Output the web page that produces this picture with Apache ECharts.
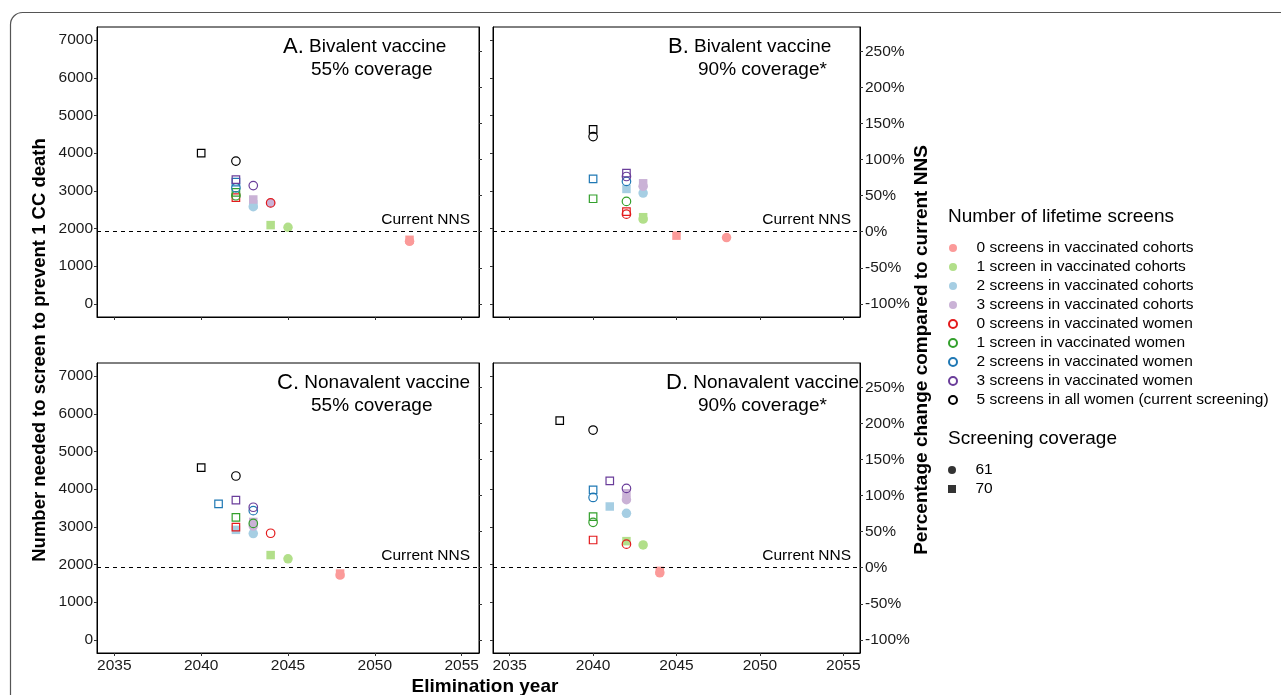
<!DOCTYPE html>
<html><head><meta charset="utf-8">
<script src="https://cdn.jsdelivr.net/npm/echarts@6/dist/echarts.min.js"></script>
<style>html,body{margin:0;padding:0;background:#fff}#chart{width:1281px;height:695px}</style>
</head><body><div id="chart"></div>
<script>
// ---------- data ----------
const groupKeys = ['c0','c1','c2','c3','w0','w1','w2','w3','all5'];
const groupNames = [
  '0 screens in vaccinated cohorts',
  '1 screen in vaccinated cohorts',
  '2 screens in vaccinated cohorts',
  '3 screens in vaccinated cohorts',
  '0 screens in vaccinated women',
  '1 screen in vaccinated women',
  '2 screens in vaccinated women',
  '3 screens in vaccinated women',
  '5 screens in all women (current screening)'
];
const groupColors = ['#FB9A99','#B2DF8A','#A6CEE3','#CAB2D6','#E31A1C','#33A02C','#1F78B4','#6A3D9A','#000000'];
const coverageLevels = ['61','70'];
const currentNNS = 1915;
const yearTicks = [2035,2040,2045,2050,2055];
const nnsTicks = [0,1000,2000,3000,4000,5000,6000,7000];
const pctTicks = [-100,-50,0,50,100,150,200,250];
const panelTitles = [
  ['A.','Bivalent vaccine','55% coverage'],
  ['B.','Bivalent vaccine','90% coverage*'],
  ['C.','Nonavalent vaccine','55% coverage'],
  ['D.','Nonavalent vaccine','90% coverage*']
];
// rows: [group, screening coverage, elimination year, NNS]
const panelA = [
  ['c0',70,2052,1700],['c0',61,2052,1660],
  ['c1',70,2044,2090],['c1',61,2045,2030],
  ['c2',70,2043,2640],['c2',61,2043,2580],
  ['c3',70,2043,2770],['c3',61,2044,2680],
  ['w0',70,2042,2820],['w0',61,2044,2680],
  ['w1',70,2042,2960],['w1',61,2042,2870],
  ['w2',70,2042,3230],['w2',61,2042,3080],
  ['w3',70,2042,3300],['w3',61,2043,3140],
  ['all5',70,2040,4000],['all5',61,2042,3790]
];
const panelB = [
  ['c0',70,2045,1810],['c0',61,2048,1760],
  ['c1',70,2043,2300],['c1',61,2043,2250],
  ['c2',70,2042,3050],['c2',61,2043,2940],
  ['c3',70,2043,3200],['c3',61,2043,3120],
  ['w0',70,2042,2450],['w0',61,2042,2380],
  ['w1',70,2040,2790],['w1',61,2042,2720],
  ['w2',70,2040,3320],['w2',61,2042,3250],
  ['w3',70,2042,3470],['w3',61,2042,3380],
  ['all5',70,2040,4630],['all5',61,2040,4440]
];
const panelC = [
  ['c0',70,2048,1760],['c0',61,2048,1720],
  ['c1',70,2044,2250],['c1',61,2045,2150],
  ['c2',70,2042,2920],['c2',61,2043,2820],
  ['c3',70,2043,3130],['c3',61,2043,3020],
  ['w0',70,2042,2990],['w0',61,2044,2830],
  ['w1',70,2042,3250],['w1',61,2043,3090],
  ['w2',70,2041,3610],['w2',61,2043,3430],
  ['w3',70,2042,3710],['w3',61,2043,3520],
  ['all5',70,2040,4570],['all5',61,2042,4350]
];
const panelD = [
  ['c0',70,2044,1830],['c0',61,2044,1780],
  ['c1',70,2042,2620],['c1',61,2043,2520],
  ['c2',70,2041,3540],['c2',61,2042,3360],
  ['c3',70,2042,3890],['c3',61,2042,3720],
  ['w0',70,2040,2650],['w0',61,2042,2540],
  ['w1',70,2040,3270],['w1',61,2040,3120],
  ['w2',70,2040,3980],['w2',61,2040,3780],
  ['w3',70,2041,4220],['w3',61,2042,4020],
  ['all5',70,2038,5820],['all5',61,2040,5570]
];
const panels = [panelA, panelB, panelC, panelD];

// ---------- layout ----------
const FONT = "'Liberation Sans', Arial, Helvetica, sans-serif";
const yMin = -350, yMax = 7350;
const xMin = 2034, xMax = 2056;
const grids = [
  {left:97, top:27, width:382, height:290},
  {left:493, top:27, width:367, height:290},
  {left:97, top:363, width:382, height:290},
  {left:493, top:363, width:367, height:290}
].map(g => Object.assign({show:true, borderColor:'#000', borderWidth:1, backgroundColor:'#fff', containLabel:false}, g));

const tickStyle = {show:true, length:3, lineStyle:{color:'#333', width:1}};
const labelStyle = {color:'#1a1a1a', fontSize:15.5, fontFamily:FONT};

const xAxes = [], yAxes = [], series = [];
for (let p = 0; p < 4; p++) {
  const bottom = p >= 2;
  xAxes.push({
    type:'value', gridIndex:p, min:xMin, max:xMax, position:'bottom',
    axisLine:{show:true, onZero:false, lineStyle:{color:'#000', width:1}},
    axisTick:Object.assign({customValues:yearTicks}, tickStyle),
    axisLabel:Object.assign({show:bottom, customValues:yearTicks, margin:5, formatter:v => String(v)}, labelStyle),
    splitLine:{show:false}
  });
  const left = (p % 2 === 0);
  yAxes.push({
    type:'value', gridIndex:p, min:yMin, max:yMax, position:'left',
    axisLine:{show:true, onZero:false, lineStyle:{color:'#000', width:1}},
    axisTick:Object.assign({customValues:nnsTicks}, tickStyle),
    axisLabel:Object.assign({show:left, customValues:nnsTicks, margin:4, formatter:v => String(v)}, labelStyle),
    splitLine:{show:false}
  });
  yAxes.push({
    type:'value', gridIndex:p, position:'right',
    min:(yMin / currentNNS - 1) * 100, max:(yMax / currentNNS - 1) * 100,
    axisLine:{show:true, onZero:false, lineStyle:{color:'#000', width:1}},
    axisTick:Object.assign({customValues:pctTicks}, tickStyle),
    axisLabel:Object.assign({show:!left, customValues:pctTicks, margin:5, formatter:v => v + '%'}, labelStyle),
    splitLine:{show:false}
  });
  // filled (cohorts) first, hollow (women) on top
  groupKeys.forEach((key, g) => {
    const hollow = g >= 4;
    const col = groupColors[g];
    const data = panels[p].filter(r => r[0] === key).map(r => ({
      value:[r[2], r[3]],
      symbol: r[1] === 61 ? 'circle' : 'rect',
      symbolSize: hollow ? (r[1] === 61 ? 8.5 : 7.5) : (r[1] === 61 ? 9.5 : 8.5)
    }));
    const s = {
      type:'scatter', name:groupNames[g], xAxisIndex:p, yAxisIndex:p * 2,
      data:data, z: hollow ? 4 : 3,
      itemStyle: hollow ? {color:'rgba(255,255,255,0)', borderColor:col, borderWidth:1.2, opacity:1}
                        : {color:col, opacity:1},
      emphasis:{disabled:true}, silent:true
    };
    if (g === 0) {
      s.markLine = {
        silent:true, symbol:'none', animation:false,
        lineStyle:{color:'#000', type:[4,4], width:1},
        label:{show:true, position:'insideEndTop', formatter:'Current NNS', color:'#000', fontSize:15.5, fontFamily:FONT, distance:[9,4]},
        data:[{yAxis:currentNNS}]
      };
    }
    series.push(s);
  });
}
// dummy series for screening-coverage legend
coverageLevels.forEach(c => series.push({type:'scatter', name:c, xAxisIndex:0, yAxisIndex:0, data:[], itemStyle:{color:'#000'}}));

// ---------- graphics ----------
const graphic = [
  {type:'rect', shape:{x:10.5, y:12.5, width:1320, height:740, r:12}, style:{fill:'none', stroke:'#555', lineWidth:1.2}, silent:true, z:-10},
  {type:'text', x:40, y:350, rotation:Math.PI/2, style:{text:'Number needed to screen to prevent 1 CC death', font:"bold 18.5px " + FONT, fill:'#000', textAlign:'center', textVerticalAlign:'middle'}},
  {type:'text', x:922, y:350, rotation:Math.PI/2, style:{text:'Percentage change compared to current NNS', font:"bold 19px " + FONT, fill:'#000', textAlign:'center', textVerticalAlign:'middle'}},
  {type:'text', x:485, y:687, style:{text:'Elimination year', font:"bold 19px " + FONT, fill:'#000', textAlign:'center', textVerticalAlign:'middle'}},
  {type:'text', left:948, top:207, style:{text:'Number of lifetime screens', font:"19px " + FONT, fill:'#000'}},
  {type:'text', left:948, top:429, style:{text:'Screening coverage', font:"19px " + FONT, fill:'#000'}}
];
const titlePos = [[283,47,311,70],[668,47,698,70],[277,383,311,406],[666,383,698,406]];
panelTitles.forEach((t, i) => {
  const [x1, y1, x2, y2] = titlePos[i];
  graphic.push({type:'text', x:x1, y:y1, style:{
    text:'{a|' + t[0] + '} {b|' + t[1] + '}', textVerticalAlign:'middle', textAlign:'left',
    rich:{a:{fontSize:22, fontFamily:FONT, fill:'#000'}, b:{fontSize:19, fontFamily:FONT, fill:'#000'}}, fill:'#000', fontSize:19, fontFamily:FONT}});
  graphic.push({type:'text', x:x2, y:y2, style:{text:t[2], font:'19px ' + FONT, fill:'#000', textAlign:'left', textVerticalAlign:'middle'}});
});

const option = {
  animation:false,
  backgroundColor:'#fff',
  grid:grids, xAxis:xAxes, yAxis:yAxes, series:series, graphic:graphic,
  legend:[
    {orient:'vertical', left:943, top:235, itemWidth:37, itemHeight:8, itemGap:3, selectedMode:false, icon:'circle',
     data:groupNames, textStyle:{fontSize:15.5, fontFamily:FONT, color:'#000', lineHeight:16}},
    {orient:'vertical', left:943, top:457, itemWidth:37, itemHeight:8, itemGap:3, selectedMode:false,
     data:[{name:'61', icon:'circle'}, {name:'70', icon:'path://M0,0H10V10H0Z'}],
     textStyle:{fontSize:15.5, fontFamily:FONT, color:'#000', lineHeight:16}}
  ]
};
const chart = echarts.init(document.getElementById('chart'), null, {renderer:'canvas'});
chart.setOption(option);
</script></body></html>
